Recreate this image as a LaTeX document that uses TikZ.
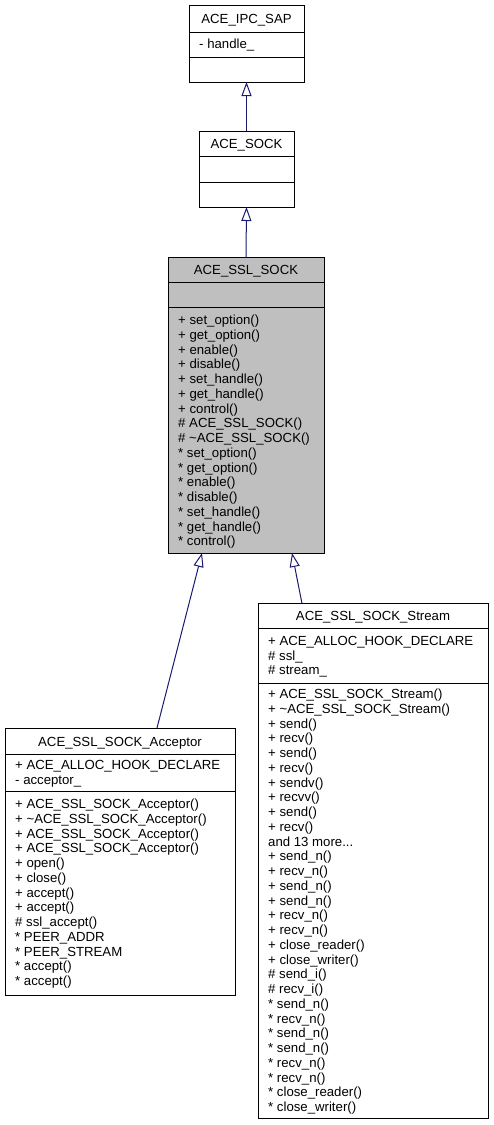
\documentclass[tikz,border=0pt]{standalone}
\usepackage{fontspec}
\setmainfont{Liberation Sans}
\usetikzlibrary{arrows.meta}
\definecolor{edgeblue}{HTML}{191970}
\definecolor{boxgray}{HTML}{BFBFBF}
\begin{document}
\begin{tikzpicture}[x=1pt,y=-1pt,
  clsbox/.style={draw=black, line width=1pt, fill=white, anchor=north west, inner sep=0pt, outer sep=0pt},
  sepline/.style={draw=black, line width=1pt},
  ttl/.style={anchor=base, inner sep=0pt, font=\fontsize{13.2}{14}\selectfont},
  mem/.style={anchor=base west, inner sep=0pt, font=\fontsize{13.2}{14}\selectfont},
  inh/.style={draw=edgeblue, line width=1pt, -{Triangle[open, length=14pt, width=10pt, fill=white]}}
]
\useasboundingbox (0,0) rectangle (493,1125);

% ACE_IPC_SAP
\node[clsbox, minimum width=115pt, minimum height=77pt] (ipc) at (189,5) {};
\draw[sepline] (189,32) -- (304,32);
\draw[sepline] (189,57) -- (304,57);
\node[ttl] (ipc-t) at (246.5,23) {ACE\_IPC\_SAP};
\node[mem] (ipc-a0) at (199,48.5) {- handle\_};

% ACE_SOCK
\node[clsbox, minimum width=95pt, minimum height=76pt] (sock) at (199,131) {};
\draw[sepline] (199,156) -- (294,156);
\draw[sepline] (199,182) -- (294,182);
\node[ttl] (sock-t) at (246.5,148) {ACE\_SOCK};

% ACE_SSL_SOCK
\node[clsbox, fill=boxgray, minimum width=156pt, minimum height=296pt] (ssl) at (168,257) {};
\draw[sepline] (168,282) -- (324,282);
\draw[sepline] (168,307) -- (324,307);
\node[ttl] (ssl-t) at (246,274) {ACE\_SSL\_SOCK};
\foreach \t [count=\i from 0] in {+ set\_option(), + get\_option(), + enable(), + disable(),
  + set\_handle(), + get\_handle(), + control(), \# ACE\_SSL\_SOCK(), \# \textasciitilde ACE\_SSL\_SOCK(),
  * set\_option(), * get\_option(), * enable(), * disable(), * set\_handle(), * get\_handle(), * control()}
  \node[mem] (ssl-m\i) at (178,{324.5+\i*14.75}) {\t};

% ACE_SSL_SOCK_Acceptor
\node[clsbox, minimum width=230pt, minimum height=267pt] (acc) at (5,728) {};
\draw[sepline] (5,754) -- (235,754);
\draw[sepline] (5,791) -- (235,791);
\node[ttl] (acc-t) at (120,746) {ACE\_SSL\_SOCK\_Acceptor};
\node[mem] (acc-a0) at (15,769.5) {+ ACE\_ALLOC\_HOOK\_DECLARE};
\node[mem] (acc-a1) at (15,784.5) {- acceptor\_};
\foreach \t [count=\i from 0] in {+ ACE\_SSL\_SOCK\_Acceptor(), + \textasciitilde ACE\_SSL\_SOCK\_Acceptor(),
  + ACE\_SSL\_SOCK\_Acceptor(), + ACE\_SSL\_SOCK\_Acceptor(), + open(), + close(), + accept(), + accept(),
  \# ssl\_accept(), * PEER\_ADDR, * PEER\_STREAM, * accept(), * accept()}
  \node[mem] (acc-m\i) at (15,{808.5+\i*14.75}) {\t};

% ACE_SSL_SOCK_Stream
\node[clsbox, minimum width=230pt, minimum height=514.5pt] (str) at (258,603.5) {};
\draw[sepline] (258,628) -- (488,628);
\draw[sepline] (258,683) -- (488,683);
\node[ttl] (str-t) at (373,620.5) {ACE\_SSL\_SOCK\_Stream};
\node[mem] (str-a0) at (268,645.5) {+ ACE\_ALLOC\_HOOK\_DECLARE};
\node[mem] (str-a1) at (268,660) {\# ssl\_};
\node[mem] (str-a2) at (268,674.5) {\# stream\_};
\foreach \t [count=\i from 0] in {+ ACE\_SSL\_SOCK\_Stream(), + \textasciitilde ACE\_SSL\_SOCK\_Stream(),
  + send(), + recv(), + send(), + recv(), + sendv(), + recvv(), + send(), + recv(), {and 13 more.{}.{}.},
  + send\_n(), + recv\_n(), + send\_n(), + send\_n(), + recv\_n(), + recv\_n(), + close\_reader(), + close\_writer(),
  \# send\_i(), \# recv\_i(), * send\_n(), * recv\_n(), * send\_n(), * send\_n(), * recv\_n(), * recv\_n(),
  * close\_reader(), * close\_writer()}
  \node[mem] (str-m\i) at (268,{698.5+\i*14.75}) {\t};

% inheritance connectors
\draw[inh] (sock.north) -- (ipc.south);
\draw[inh] (ssl.north) -- (sock.south);
\draw[inh] ([xshift=37pt]acc.north) -- ([xshift=-44pt]ssl.south);
\draw[inh] ([xshift=-71pt]str.north) -- ([xshift=46pt]ssl.south);
\end{tikzpicture}
\end{document}
